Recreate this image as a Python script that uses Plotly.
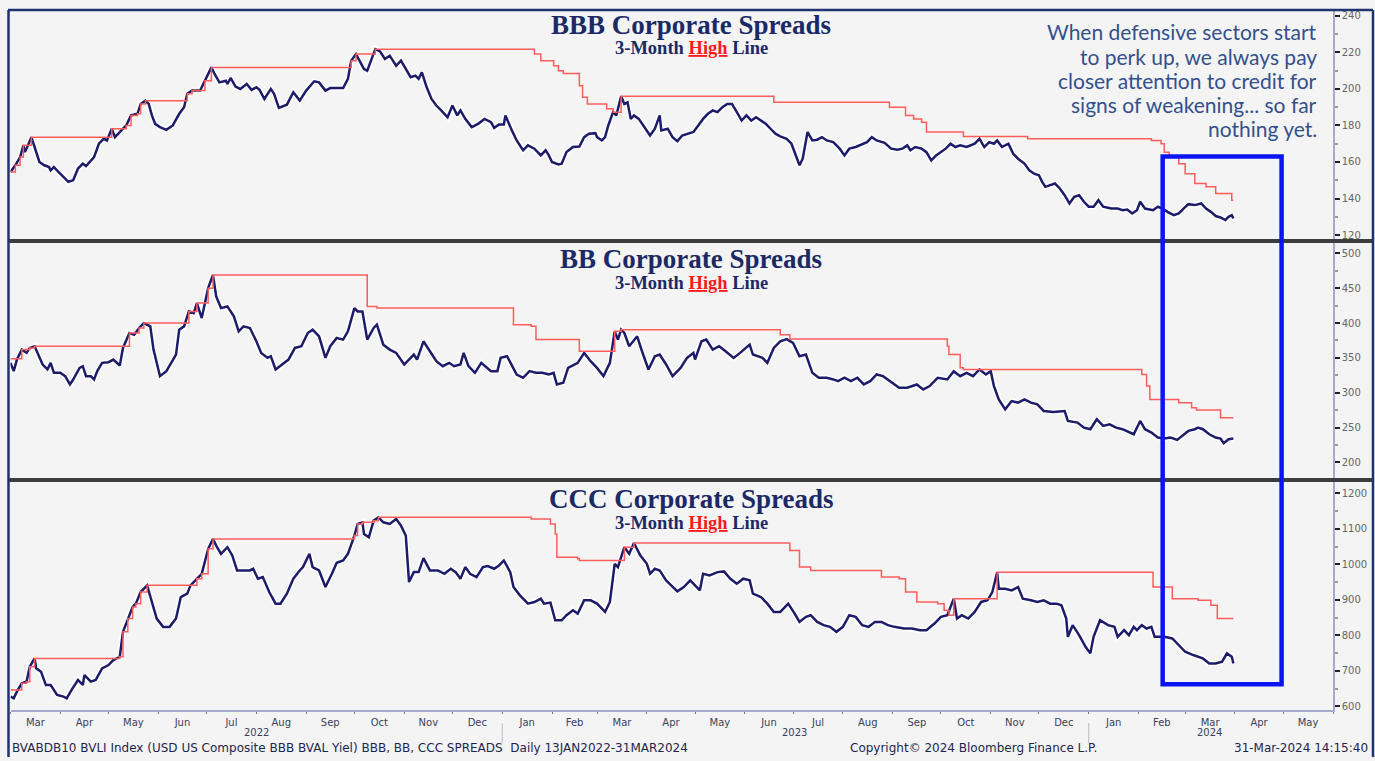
import pandas as pd
import plotly.graph_objects as go

START = "2022-03-01"  # day 0 of the day-offset arrays below

# ---------------- BBB ----------------
bbb_day = [0,3,6,8,9,13,15,18,21,24,25,27,30,33,36,39,42,45,47,52,55,58,60,63,65,68,72,75,79,81,84,86,88,90,93,97,101,105,108,110,113,118,121,125,127,130,134,135,137,140,143,147,150,153,155,158,162,164,167,172,176,180,184,189,192,196,199,203,207,210,212,215,217,220,222,225,227,230,233,236,240,243,246,249,252,254,256,259,262,265,268,272,275,278,280,283,287,291,295,299,301,304,307,308,312,315,319,322,326,330,333,335,337,341,343,346,350,354,357,360,364,365,368,370,372,375,377,380,382,384,386,388,391,394,398,401,404,405,409,412,415,418,422,425,428,431,434,437,440,443,446,449,452,455,458,461,464,467,470,473,476,479,483,486,489,491,493,496,499,502,505,508,512,516,519,522,526,530,533,536,539,544,548,552,555,558,560,563,567,570,573,576,579,582,585,588,591,595,600,603,606,609,612,614,617,621,624,627,631,634,637,640,642,644,647,650,653,656,659,662,665,668,671,674,677,680,685,689,692,695,698,701,703,706,711,714,717,720,724,727,730,733,737,741,744,747,750,753,756,758,760,761]
bbb_val = [154.5,158.2,162.7,169.1,165.4,173.6,168.2,160,158.2,157.2,155.4,157.2,154.5,151.8,149.1,150,156.4,159.1,157.8,162.7,170,172.7,171.8,178.2,173.6,176.4,180,185.5,186.4,191.8,193.6,191.8,185.5,180.9,179.1,177.6,180,186.4,190,197.3,199.1,199.1,204.5,211.8,208.2,203.6,204.5,202.7,206,201.3,200,202.7,199.5,200.9,199.5,194.5,200,197.3,189.6,191.4,198.2,193.6,199.1,204.2,203.6,199.1,200.5,200.5,200.5,205.5,215.5,219.1,215.5,210.9,210,217.3,221.8,220.5,216.4,218.2,212.7,215.5,210.9,206.4,207.3,205.5,209.1,200.9,194.5,190.9,188.2,184.5,190.9,185.5,188.2,183.6,179.1,180.9,183.6,181.8,178.7,180.5,180.5,185.5,177.3,171.8,166.4,169.1,167.3,163.6,166.4,163.6,160,158.7,159.1,165.4,168.2,168.5,173.6,175.5,175.8,173.6,171.8,173.6,180,187.3,185.5,196,191.8,192.7,183.6,185.5,183.6,180,174.5,178.2,185.5,177.3,178.2,173.6,171.4,174.5,175.5,176.4,180,183.6,186.4,188.2,187.3,190,191.8,191.8,187.3,182.7,185.5,182.7,184.5,182.7,180.9,178.2,175.5,174,172.7,170,162.7,158.2,161.8,176.4,171.8,172.2,173.6,171.8,170.9,167.3,163.6,167.3,168.2,170,170.9,173.6,171.8,170.5,167.3,166.7,167.3,169.1,166.4,168.2,167.3,165.4,160.9,163.6,165.4,167.3,170,168.2,169.1,168.2,170,172.7,168.2,170.9,170,171.8,168.2,170,164.5,161.8,159.1,155.4,153.6,152.7,149.1,146.4,147.3,148.2,145.5,141.8,137.3,140.9,141.8,138.2,135.5,135.5,139.1,135.5,134.5,134.5,133.6,134,131.8,133.6,138.2,134.5,133.6,135.5,134.5,132.7,130.9,131.8,134.5,136.9,136.4,137.3,134.5,132.7,130.4,129.6,128.2,130,130.9,129.1]
bbb_hi_day = [0,3,6,8,13,63,72,75,79,81,84,110,113,121,125,212,215,227,326,330,338,341,344,354,356,359,371,375,380,475,547,557,562,567,570,593,633,710,716,718,721,727,731,737,744,750,760,761]
bbb_hi_val = [154.5,158.2,162.7,169.1,173.6,178.2,180,185.5,186.4,191.8,193.6,197.3,199.1,204.5,211.8,215.5,219.1,221.8,219.1,215.5,212.7,210,208.5,201.8,195.5,191.8,189.1,187.3,196,192.7,190,185.5,183.6,181.8,176.4,174,172.7,171.8,170,165.4,162.7,159.1,153.6,148.2,146.4,142.7,139.1,139.1]

# ---------------- BB ----------------
bb_day = [0,2,4,7,10,12,15,18,20,23,25,27,31,34,37,39,43,45,47,50,52,54,57,61,64,68,70,74,77,80,83,87,89,93,97,103,105,108,111,114,116,119,123,126,128,131,135,139,142,145,149,153,156,160,162,165,169,173,177,181,185,188,192,196,199,203,207,210,214,216,219,222,226,228,232,236,240,245,249,251,253,257,261,265,269,273,276,280,282,285,289,293,299,303,305,309,315,319,323,327,331,335,338,340,344,347,353,357,361,365,369,373,376,378,380,382,385,388,390,393,397,401,404,408,412,417,421,425,426,430,433,437,441,445,450,454,460,462,468,471,475,479,483,487,491,495,499,503,508,512,515,519,523,527,531,535,539,543,547,553,558,564,568,572,577,583,587,591,595,599,603,607,610,612,615,619,623,627,631,635,639,643,649,656,658,664,668,672,676,680,684,688,692,696,699,703,706,710,714,718,722,726,730,733,737,739,742,746,750,753,755,758,761]
bb_val = [342.9,331,347.6,361.9,357.2,364.3,366.7,352.4,340.5,333.4,342.9,328.6,328.6,323.8,311.9,319,335.7,338.1,323.8,323.8,319,331,342.9,343.8,347.6,339.1,364.3,385.7,383.3,392.9,400,395.2,361.9,323.8,331,354.8,390.5,395.2,416.6,414.3,428.6,407.1,450,469,438.1,421.4,423.8,409.5,388.1,395.2,392.9,373.8,357.2,350,352.4,333.4,340.5,347.6,364.3,366.7,385.7,390.5,381,350,366.7,378.6,376.2,388.1,421.4,416.6,416.6,376.2,392.9,397.6,369,361.9,357.2,340.5,350,354.8,347.6,373.8,359.5,345.3,338.1,342.9,338.1,340.5,357.2,338.1,328.6,342.9,331,331,350,352.4,326.2,321.4,331,328.6,328.6,326.2,328.6,311.9,314.3,335.7,342.9,357.2,345.3,335.7,323.8,342.9,388.1,376.2,390.5,385.7,366.7,376.2,381,359.5,333.4,352.4,354.8,340.5,323.8,335.7,350,357.2,347.6,373.8,376.2,361.9,366.7,359.5,350,357.2,369.1,354.8,350,342.9,364.3,373.8,377,371.4,352.4,354.8,328.6,321.5,321.5,319.1,316.7,321.5,316.7,321.5,311.9,316.7,326.2,323.8,316.7,307.2,307.2,311.9,304.8,309.6,321.5,319.1,331,323.8,328.6,323.8,333.4,326.2,331,309.6,290.5,276.2,288.1,285.8,290.5,285.8,283.4,273.9,272.4,273.9,259.6,257.2,250,247.7,262,252.4,254.8,250,247.7,242.9,240.5,259.6,247.7,242.9,235.8,234.4,235.8,232.4,240.5,245.3,247.7,250,247.7,240.5,235.8,234.4,227.7,233.4,234.4]
bb_hi_day = [0,7,12,15,74,80,83,111,116,123,126,222,228,313,324,327,354,376,380,479,485,583,584,591,593,704,707,709,727,735,738,753,761]
bb_hi_val = [348.6,361.9,364.3,366.7,385.7,392.9,400,416.6,428.6,450,469,423.8,421.4,397.6,395.2,376.2,359.5,388.1,390.5,383.3,377,366.7,354.8,335.7,333.4,326.2,309.6,290.5,285.8,278.6,275.3,264.3,264.3]

# ---------------- CCC ----------------
ccc_day = [0,2,4,7,10,12,15,16,19,22,25,29,33,35,38,42,45,46,50,53,57,61,64,68,70,73,76,78,81,85,88,91,95,99,103,106,110,112,116,119,123,126,128,131,135,138,141,145,149,151,154,157,161,165,168,172,176,180,182,186,188,192,196,200,203,207,210,214,216,219,220,223,226,229,232,236,240,243,246,248,251,254,257,261,266,270,274,277,280,283,286,290,294,297,301,304,307,311,313,317,322,326,330,332,336,339,343,346,350,353,357,361,365,370,373,376,378,382,385,388,392,396,398,401,404,408,415,419,423,426,429,431,435,440,444,448,452,456,460,462,467,471,475,479,484,488,491,495,498,502,506,510,514,518,522,526,530,534,538,542,546,550,556,561,566,570,575,579,583,587,589,592,596,600,604,608,611,614,615,619,623,627,630,635,639,643,647,651,654,657,658,661,665,669,672,674,678,683,687,689,693,696,699,701,704,707,710,712,718,723,727,731,736,742,746,750,754,757,760,761]
ccc_val = [627.9,623.2,641.9,665.3,670,712,735.4,707.3,698,660.6,660.6,632.6,627.9,623.2,646.6,674.6,660.6,688.6,670,674.6,707.3,716.7,730.7,740,810.1,847.5,880.2,889.6,922.3,941,894.2,847.5,824.1,824.1,847.5,908.2,917.6,941,959.6,973.7,1043.8,1071.8,1053.1,1029.7,1048.4,1025.1,983,983,983,987.7,959.6,964.3,922.3,889.6,889.6,917.6,959.6,983,992.4,1029.7,992.4,983,936.3,973.7,1004.5,1011,1029.7,1081.1,1113.8,1118.5,1085.8,1076.5,1123.2,1132.5,1118.5,1113.8,1127.9,1109.2,1081.1,950.3,978.3,978.3,1017.6,983,983,973.7,987.7,978.3,959.6,992.4,973.7,964.3,992.4,995.2,987.7,997.1,1011,978.3,936.3,912.9,889.6,894.2,903.6,889.6,892.4,842.8,842.8,856.9,870.9,861.5,898.9,898.9,889.6,866.2,894.2,1001.7,992.4,1048.4,1029.7,1060,1025.1,1001.7,973.7,987.7,983,955,924.2,936.3,955,941,927,973.7,969,978.3,980.2,959.7,945.7,959.7,955,917.6,908.3,889.6,866.2,866.2,889.6,861.6,838.2,852.3,857,838.2,828.9,824.2,810.2,824.2,857,852.3,828.9,824.2,838.2,838.2,828.9,824.2,819.5,819.5,814.9,814.9,833.5,852.3,857,903.6,847.6,857,847.6,866.2,894.3,899,922.3,978,931.7,931.7,927,936.3,903.6,899,894.3,899,889.6,889.6,885,847.6,796.2,828.9,800.8,768.1,749.5,796.2,842.9,828.9,824.2,796.2,814.9,800.8,824.2,814.9,828.9,819.5,824.2,796.2,796.2,791.5,772.8,754.1,744.8,735.4,721.4,721.4,726.1,749.5,740.1,721.4]
ccc_hi_day = [0,7,10,12,15,68,70,73,76,78,81,85,116,119,123,126,214,216,219,226,229,324,336,339,340,353,354,382,388,485,491,498,542,553,557,564,577,581,584,587,614,711,723,739,747,751,761]
ccc_hi_val = [646.6,665.3,670,712,735.4,740,810.1,847.5,880.2,889.6,922.3,941,959.6,973.7,1043.8,1071.8,1081.1,1113.8,1118.5,1123.2,1132.5,1128,1113.8,1085.8,1020.4,1015.7,1011,1048.4,1060,1039,992.4,983,964.4,959.7,922.3,894.3,889.6,871,857,903.6,978,936.3,903.6,899,885,847.6,847.6]

panel_titles = ["BBB Corporate Spreads", "BB Corporate Spreads", "CCC Corporate Spreads"]
year_labels = ["2022", "2023", "2024"]
year_label_dates = ["2022-08-01", "2023-07-02", "2024-03-16"]
year_breaks = ["2023-01-01", "2024-01-01"]
callout_lines = ["When defensive sectors start", "to perk up, we always pay",
                 "closer attention to credit for", "signs of weakening... so far",
                 "nothing yet."]
box_dates = ["2024-02-16", "2024-04-30"]

W, H = 1375, 761
def py(px):  # pixel row -> paper y
    return 1 - px / H
def pxx(px):
    return px / W

def dates(days):
    return pd.Timestamp(START) + pd.to_timedelta(days, unit="D")

NAVY = "#1c1c6b"
RED = "#ff5c5c"
BG = "#f4f4f4"

fig = go.Figure()
series = [
    (bbb_day, bbb_val, bbb_hi_day, bbb_hi_val, "y"),
    (bb_day, bb_val, bb_hi_day, bb_hi_val, "y2"),
    (ccc_day, ccc_val, ccc_hi_day, ccc_hi_val, "y3"),
]
for d, v, hd, hv, ax in series:
    x = dates(d)
    fig.add_trace(go.Scatter(x=x, y=v, yaxis=ax, mode="lines",
                             line=dict(color="white", width=5.5), hoverinfo="skip"))
    fig.add_trace(go.Scatter(x=x, y=v, yaxis=ax, mode="lines",
                             line=dict(color=NAVY, width=2.5)))
    fig.add_trace(go.Scatter(x=dates(hd), y=hv, yaxis=ax, mode="lines",
                             line=dict(color=RED, width=1.5, shape="hv")))

ytick = dict(side="right", anchor="x", showgrid=False, zeroline=False,
             showline=True, linecolor="#a9a9c9", linewidth=1.5,
             ticks="outside", ticklen=5, tickwidth=2, tickcolor="#222",
             tickfont=dict(family="DejaVu Sans", size=10, color="#666"))

fig.update_layout(
    width=W, height=H, margin=dict(l=0, r=0, t=0, b=0),
    paper_bgcolor=BG, plot_bgcolor=BG, showlegend=False,
    xaxis=dict(type="date", domain=[pxx(10.5), pxx(1333)], anchor="y3",
               range=["2022-03-01", "2024-06-01"], dtick="M1", tick0="2022-03-01",
               tickformat="%b", ticklabelmode="period", ticks="outside",
               ticklen=2, tickcolor="#777", showgrid=False, zeroline=False,
               showline=True, linecolor="#a9a9c9", linewidth=1.5,
               tickfont=dict(family="DejaVu Sans", size=10, color="#3a3f5c")),
    yaxis=dict(domain=[py(239), py(10)], range=[117.8, 242.7], dtick=20, tick0=120,
               minor=dict(dtick=10, ticks="outside", ticklen=3, tickcolor="#999"), **ytick),
    yaxis2=dict(domain=[py(479), py(243)], range=[177.6, 514.7], dtick=50, tick0=200,
                minor=dict(dtick=25, ticks="outside", ticklen=3, tickcolor="#999"), **ytick),
    yaxis3=dict(domain=[py(712), py(483)], range=[589.6, 1231.7], dtick=100, tick0=600,
                minor=dict(dtick=50, ticks="outside", ticklen=3, tickcolor="#999"), **ytick),
)

anns = []
title_rows = [(24, 47), (259, 283), (500, 524)]
for t, (ty, sy) in zip(panel_titles, title_rows):
    anns.append(dict(text=f"<b>{t}</b>", x=pxx(691), y=py(ty), xref="paper", yref="paper",
                     showarrow=False, xanchor="center", yanchor="middle",
                     font=dict(family="Liberation Serif", size=27, color="#1b2a66")))
    anns.append(dict(text="<b>3-Month <span style='color:#ff1a1a'><u>High</u></span> Line</b>",
                     x=pxx(691), y=py(sy), xref="paper", yref="paper", showarrow=False,
                     xanchor="center", yanchor="middle",
                     font=dict(family="Liberation Serif", size=18.5, color="#1b2a66")))
for i, line in enumerate(callout_lines):
    anns.append(dict(text=line, x=pxx(1319), y=py(31 + 24.3 * i), xref="paper", yref="paper",
                     showarrow=False, xanchor="right", yanchor="middle", align="right",
                     font=dict(family="Lato", size=21, color="#33508c")))
for lab, dt in zip(year_labels, year_label_dates):
    anns.append(dict(text=lab, x=dt, y=py(734), xref="x", yref="paper", showarrow=False,
                     xanchor="center", yanchor="middle",
                     font=dict(family="DejaVu Sans", size=10, color="#3a3f5c")))
foot = dict(family="DejaVu Sans", size=12, color="#1e2550")
anns.append(dict(text="BVABDB10 BVLI Index (USD US Composite BBB BVAL Yiel) BBB, BB, CCC SPREADS&nbsp;&nbsp;Daily 13JAN2022-31MAR2024",
                 x=pxx(10), y=py(750), xref="paper", yref="paper", showarrow=False,
                 xanchor="left", yanchor="middle", font=foot))
anns.append(dict(text="Copyright© 2024 Bloomberg Finance L.P.", x=pxx(848), y=py(750),
                 xref="paper", yref="paper", showarrow=False, xanchor="left",
                 yanchor="middle", font=foot))
anns.append(dict(text="31-Mar-2024 14:15:40", x=pxx(1370), y=py(750), xref="paper",
                 yref="paper", showarrow=False, xanchor="right", yanchor="middle", font=foot))
fig.update_layout(annotations=anns)

shapes = []
# panel separators
for sy in (241, 481):
    shapes.append(dict(type="line", xref="paper", yref="paper", x0=pxx(9), x1=pxx(1373),
                       y0=py(sy), y1=py(sy), line=dict(color="#3d3d3d", width=4)))
# outer frame
FR = "#1f3470"
shapes.append(dict(type="line", xref="paper", yref="paper", x0=pxx(8), x1=pxx(1373),
                   y0=py(9), y1=py(9), line=dict(color=FR, width=2.5)))
shapes.append(dict(type="line", xref="paper", yref="paper", x0=pxx(8.5), x1=pxx(8.5),
                   y0=py(9), y1=py(759), line=dict(color=FR, width=2.5)))
shapes.append(dict(type="line", xref="paper", yref="paper", x0=pxx(1373), x1=pxx(1373),
                   y0=py(9), y1=py(759), line=dict(color=FR, width=2.5)))
# year dividers
for yb in year_breaks:
    shapes.append(dict(type="line", xref="x", yref="paper", x0=yb, x1=yb,
                       y0=py(725), y1=py(745), line=dict(color="#b8b8c8", width=1)))
# highlight box
shapes.append(dict(type="rect", xref="x", yref="paper", x0=box_dates[0], x1=box_dates[1],
                   y0=py(686), y1=py(156), line=dict(color="#0a14f5", width=4.5)))
fig.update_layout(shapes=shapes)

fig.write_html("out.html", config={"displayModeBar": False},
               post_script="document.body.style.margin='0';document.body.style.background='#f4f4f4';")
